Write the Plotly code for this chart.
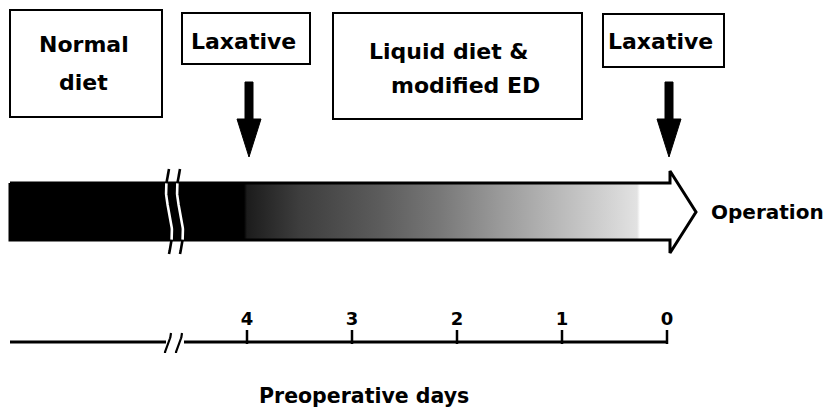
import numpy as np
import plotly.graph_objects as go

# ---------------- data ----------------
days = [4, 3, 2, 1, 0]
day_labels = ["4", "3", "2", "1", "0"]
laxative_days = [4, 0]
box_lines = [["Normal", "diet"], ["Laxative"], ["Liquid diet &", "modified ED"], ["Laxative"]]
end_label = "Operation"
axis_title = "Preoperative days"

# ---------------- layout helpers ----------------
W, H = 829, 410
X0, SCALE = 667.0, 105.0          # day 0 sits at pixel 667, one day = 105 px


def px(p):
    return (X0 - p) / SCALE


FONT = "DejaVu Sans"
BLACK = "#000000"

fig = go.Figure()

# ---------------- main arrow (gradient bar) ----------------
BAR_T, BAR_B = 183, 240
HEAD_T, HEAD_B, TIP_Y = 171, 253, 212
L, SHAFT_END, TIP = 10, 670, 696
span = TIP - L


def f(p):
    return (p - L) / span


cs = [
    [0.0, "#000000"], [f(244), "#000000"], [f(247), "#1c1c1c"], [f(300), "#3e3e3e"],
    [f(380), "#5c5c5c"], [f(440), "#787878"], [f(500), "#9a9a9a"], [f(560), "#bababa"],
    [f(615), "#d6d6d6"], [f(637), "#e2e2e2"], [f(640), "#ffffff"], [1.0, "#ffffff"],
]
poly_x = [px(L), px(SHAFT_END), px(SHAFT_END), px(TIP), px(SHAFT_END), px(SHAFT_END), px(L), px(L)]
poly_y = [BAR_T, BAR_T, HEAD_T, TIP_Y, HEAD_B, BAR_B, BAR_B, BAR_T]
fig.add_trace(go.Scatter(
    x=poly_x, y=poly_y, mode="lines", fill="toself",
    fillgradient=dict(type="horizontal", colorscale=cs, start=px(L), stop=px(TIP)),
    line=dict(color=BLACK, width=3), hoverinfo="skip", showlegend=False,
))

# break marks on the bar (white inside the bar, black outside)
for xc in (169, 180):
    yy = np.linspace(169, 254, 60)
    xx = xc - 3 * np.sin(2 * np.pi * (yy - 169) / 85)
    inside = (yy >= BAR_T) & (yy <= BAR_B)
    for mask, col in ((yy <= BAR_T + 1, BLACK), (yy >= BAR_B - 1, BLACK), (inside, "#ffffff")):
        fig.add_trace(go.Scatter(
            x=[px(v) for v in xx[mask]], y=yy[mask], mode="lines",
            line=dict(color=col, width=2.6), hoverinfo="skip", showlegend=False,
        ))

# ---------------- timeline ----------------
LINE_Y = 342
fig.add_trace(go.Scatter(x=[px(L), px(166)], y=[LINE_Y, LINE_Y], mode="lines",
                         line=dict(color=BLACK, width=3), hoverinfo="skip", showlegend=False))
fig.add_trace(go.Scatter(x=[px(184), days[-1]], y=[LINE_Y, LINE_Y], mode="lines",
                         line=dict(color=BLACK, width=3), hoverinfo="skip", showlegend=False))
for xc in (168, 179):
    yy = np.linspace(333, 353, 20)
    xx = xc - 3 * np.sin(np.pi * (yy - 343) / 20)
    fig.add_trace(go.Scatter(x=[px(v) for v in xx], y=yy, mode="lines",
                             line=dict(color=BLACK, width=2.2), hoverinfo="skip", showlegend=False))

# ticks (pointing up) and tick labels
fig.add_trace(go.Scatter(
    x=days, y=[LINE_Y - 5] * len(days), mode="markers",
    marker=dict(symbol="line-ns", size=10, line=dict(color=BLACK, width=2.5)),
    hoverinfo="skip", showlegend=False,
))
fig.add_trace(go.Scatter(
    x=days, y=[320] * len(days), mode="text", text=day_labels,
    textfont=dict(family=FONT, size=18, color=BLACK, weight="bold"),
    hoverinfo="skip", showlegend=False,
))

# ---------------- boxes ----------------
boxes = [(10, 162, 10, 117), (182, 310, 13, 64), (333, 582, 13, 119), (603, 724, 14, 67)]
text_pos = [[(84, 44), (83, 82)], [(243, 41)], [(449, 51), (465, 85)], [(660, 41)]]
shapes = []
annotations = []
for (x0, x1, y0, y1), lines, poss in zip(boxes, box_lines, text_pos):
    shapes.append(dict(type="rect", xref="x", yref="y", x0=px(x0), x1=px(x1), y0=y0, y1=y1,
                       line=dict(color=BLACK, width=2), fillcolor="rgba(0,0,0,0)", layer="above"))
    for t, (tx, ty) in zip(lines, poss):
        annotations.append(dict(x=px(tx), y=ty, xref="x", yref="y", text=t, showarrow=False,
                                xanchor="center", yanchor="middle",
                                font=dict(family=FONT, size=22, color=BLACK, weight="bold")))

# ---------------- laxative down arrows ----------------
for d in laxative_days:
    path = "M -4,82 L 4,82 L 4,119 L 12,119 L 0,157 L -12,119 L -4,119 Z"
    shapes.append(dict(type="path", xref="x", yref="y", xsizemode="pixel", xanchor=d + px(X0 + 2) - px(X0),
                       path=path, fillcolor=BLACK, line=dict(color=BLACK, width=1)))

annotations.append(dict(x=px(767), y=TIP_Y, xref="x", yref="y", text=end_label, showarrow=False,
                        xanchor="center", yanchor="middle",
                        font=dict(family=FONT, size=20, color=BLACK, weight="bold")))
annotations.append(dict(x=px(364), y=396, xref="x", yref="y", text=axis_title, showarrow=False,
                        xanchor="center", yanchor="middle",
                        font=dict(family=FONT, size=20.5, color=BLACK, weight="bold")))

fig.update_layout(
    width=W, height=H, margin=dict(l=0, r=0, t=0, b=0),
    paper_bgcolor="white", plot_bgcolor="white",
    xaxis=dict(range=[px(0), px(W)], visible=False, fixedrange=True),
    yaxis=dict(range=[H, 0], visible=False, fixedrange=True),
    shapes=shapes, annotations=annotations, showlegend=False,
)

fig.write_html(
    "out.html",
    config={"displayModeBar": False},
    post_script="document.body.style.margin='0px';document.body.style.overflow='hidden';",
)
